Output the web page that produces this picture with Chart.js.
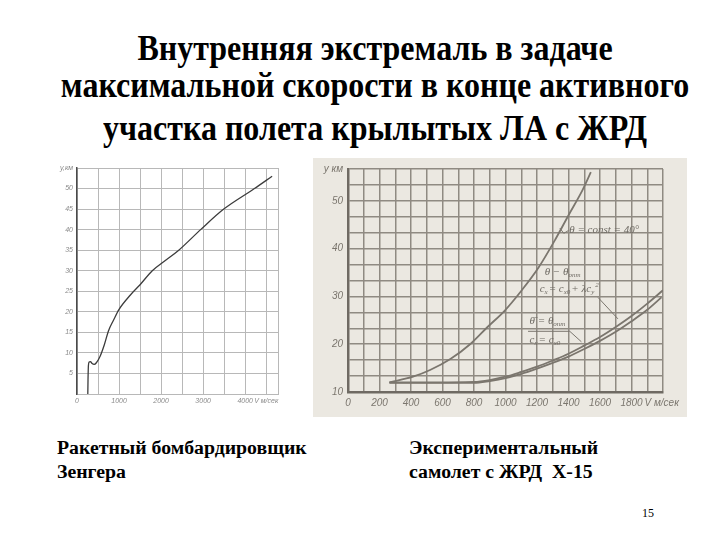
<!DOCTYPE html>
<html>
<head>
<meta charset="utf-8">
<script src="https://cdn.jsdelivr.net/npm/chart.js@4"></script>
<style>
  body { margin: 0; width: 720px; height: 540px; background: #fff; position: relative; overflow: hidden; }
  .title, .cap, .page { font-family: 'Liberation Serif'; }
  .title { position: absolute; left: 15px; width: 720px; text-align: center; font-weight: bold; font-size: 32px; line-height: 32px; white-space: nowrap; transform: scaleY(1.1); }
  .cap { position: absolute; font-weight: bold; font-size: 19.8px; line-height: 24px; white-space: nowrap; }
  #senger { position: absolute; left: 55px; top: 155px; background: #fff; }
  #x15 { position: absolute; left: 313px; top: 158px; background: #ebe8e1; }
  .page { position: absolute; left: 642px; top: 506px; font-size: 12px; }
</style>
</head>
<body>
<div class="title" style="top:32px">Внутренняя экстремаль в задаче</div>
<div class="title" style="top:69px">максимальной скорости в конце активного</div>
<div class="title" style="top:112px">участка полета крылытых ЛА с ЖРД</div>

<canvas id="senger" width="240" height="260"></canvas>
<canvas id="x15" width="374" height="259"></canvas>

<div class="cap" style="left:57px; top:435px">Ракетный бомбардировщик<br>Зенгера</div>
<div class="cap" style="left:409px; top:435px">Экспериментальный<br>самолет с ЖРД&nbsp; Х-15</div>
<div class="page">15</div>

<script>
// --- DATA ---
// Зенгер: скорость V, м/сек -> высота y, км
const sengerV = [257, 262, 272, 290, 320, 360, 410, 460, 550, 650, 750, 870, 1000, 1270, 1500, 1790, 2100, 2420, 2940, 3490, 4220, 4640];
const sengerH = [0, 3.5, 7.0, 7.8, 7.9, 7.4, 7.2, 7.6, 9.2, 12.0, 15.4, 18.0, 20.6, 24.1, 26.6, 30.0, 32.5, 35.0, 40.0, 45.0, 50.0, 53.0];

// X-15: θ = const = 40°
const x15V40 = [263, 413, 521, 650, 779, 886, 994, 1101, 1209, 1316, 1402, 1488, 1542];
const x15H40 = [12.0, 13.2, 14.6, 16.9, 20.1, 23.6, 27.0, 31.2, 36.0, 41.9, 47.1, 52.2, 56.0];
// X-15: θ = θопт, cx = cx0 + λcy²
const x15VoptA = [263, 500, 800, 900, 1000, 1100, 1200, 1300, 1400, 1500, 1600, 1700, 1800, 1900, 2000];
const x15HoptA = [12.0, 12.0, 12.1, 12.5, 13.2, 14.2, 15.3, 16.6, 18.0, 19.7, 21.5, 23.6, 25.9, 28.5, 31.3];
// X-15: θ = θопт, cx = cx0
const x15VoptB = [263, 500, 800, 900, 1000, 1100, 1200, 1300, 1400, 1500, 1600, 1700, 1800, 1900, 1990];
const x15HoptB = [11.9, 11.9, 11.9, 12.3, 12.9, 13.8, 14.9, 16.1, 17.4, 19.0, 20.7, 22.6, 24.8, 27.2, 29.8];

// tick labels
const sengerXLabels = { 0: '0', 1000: '1000', 2000: '2000', 3000: '3000', 4000: '4000', 4500: 'V м/сек' };
const x15XLabels = ['0', '200', '400', '600', '800', '1000', '1200', '1400', '1600', '1800'];
const yUnit = 'у,км';

// annotations on the X-15 chart (data coordinates)
const x15Notes = [
    { x: 1405, y: 43.8, parts: [['θ = const = 40°', '']] },
    { x: 1249, y: 35.0, parts: [['θ − θ', ''], ['опт', 'sub']] },
    { x: 1217, y: 31.6, parts: [['c', ''], ['x', 'sub'], ['= c', ''], ['x0', 'sub'], ['+ λc', ''], ['y', 'sub'], ['2', 'sup']] },
    { x: 1153, y: 24.8, parts: [['θ̄ = θ', ''], ['опт', 'sub']] },
    { x: 1153, y: 20.9, parts: [['c', ''], ['x', 'sub'], ['= c', ''], ['x0', 'sub']] }
];
const x15Leaders = [
    [[1345, 44.3], [1370, 43.2], [1400, 43.8]],
    [[1587, 29.8], [1714, 25.3]],
    [[1143, 22.7], [1408, 22.7], [1482, 20.5]]
];

const toPoints = (xs, ys) => xs.map((v, i) => ({ x: v, y: ys[i] }));
const serif = "'Liberation Serif'";

// --- 1. LEFT: ЗЕНГЕР ---
const sengerGray = '#8a8a8a';
new Chart(document.getElementById('senger'), {
    type: 'line',
    data: {
        datasets: [{
            data: toPoints(sengerV, sengerH),
            borderColor: '#3c3c3c', borderWidth: 1.3,
            pointRadius: 0, cubicInterpolationMode: 'monotone'
        }]
    },
    options: {
        responsive: false, animation: false,
        layout: { padding: { top: 13, right: 17, left: 0, bottom: 0 } },
        plugins: { legend: { display: false }, tooltip: { enabled: false } },
        scales: {
            x: {
                type: 'linear', min: 0, max: 4780,
                afterBuildTicks: ax => {
                    let t = [];
                    for (let v = 0; v < ax.max; v += 500) t.push({ value: v });
                    t.push({ value: ax.max });
                    ax.ticks = t;
                },
                afterFit: s => { s.height = 21; },
                grid: { color: '#b8b8b8', lineWidth: 1, drawTicks: false },
                border: { color: '#b8b8b8', width: 1 },
                ticks: {
                    autoSkip: false, maxRotation: 0, padding: 3,
                    color: sengerGray, font: { family: 'Liberation Sans', size: 7, style: 'italic' },
                    callback: v => sengerXLabels[v] || ''
                }
            },
            y: {
                min: 0, max: 55,
                afterBuildTicks: ax => {
                    let t = [];
                    for (let v = 0; v <= 55; v += 5) t.push({ value: v });
                    ax.ticks = t;
                },
                afterFit: s => { s.width = 22; },
                grid: { color: '#b8b8b8', lineWidth: 1, drawTicks: false },
                border: { color: '#4a4a4a', width: 1.5 },
                ticks: {
                    padding: 4,
                    color: sengerGray, font: { family: 'Liberation Sans', size: 7, style: 'italic' },
                    callback: v => v === 0 ? '' : (v === 55 ? yUnit : String(v))
                }
            }
        }
    }
});

// --- 2. RIGHT: X-15 ---
const x15Line = '#7b766e';
const x15Grid = '#8f8a82';

function drawParts(ctx, x, y, parts) {
    let cx = x;
    parts.forEach(([txt, kind]) => {
        ctx.font = (kind ? 'italic 7px ' : 'italic 11px ') + serif;
        let dy = kind === 'sub' ? 3 : (kind === 'sup' ? -4 : 0);
        ctx.fillText(txt, cx, y + dy);
        cx += ctx.measureText(txt).width + (kind ? 1 : 0);
    });
}

const notesPlugin = {
    id: 'x15notes',
    afterDatasetsDraw(chart) {
        const { ctx, scales: { x, y } } = chart;
        ctx.save();
        ctx.strokeStyle = x15Line;
        ctx.lineWidth = 1;
        x15Leaders.forEach(line => {
            ctx.beginPath();
            line.forEach(([v, h], i) => {
                let px = x.getPixelForValue(v), py = y.getPixelForValue(h);
                i ? ctx.lineTo(px, py) : ctx.moveTo(px, py);
            });
            ctx.stroke();
        });
        ctx.fillStyle = '#6e6a63';
        ctx.textBaseline = 'middle';
        x15Notes.forEach(n => drawParts(ctx, x.getPixelForValue(n.x), y.getPixelForValue(n.y), n.parts));
        // unit label after 1800
        ctx.font = "italic 10px 'Liberation Sans'";
        ctx.textBaseline = 'top';
        ctx.fillStyle = x15Line;
        ctx.fillText('V м/сек', x.getPixelForValue(1800) + 13, y.bottom + 6);
        ctx.restore();
    }
};

new Chart(document.getElementById('x15'), {
    type: 'line',
    data: {
        datasets: [
            { data: toPoints(x15V40, x15H40), borderColor: x15Line, borderWidth: 1.8, pointRadius: 0, cubicInterpolationMode: 'monotone' },
            { data: toPoints(x15VoptA, x15HoptA), borderColor: x15Line, borderWidth: 1.8, pointRadius: 0, cubicInterpolationMode: 'monotone' },
            { data: toPoints(x15VoptB, x15HoptB), borderColor: x15Line, borderWidth: 1.8, pointRadius: 0, cubicInterpolationMode: 'monotone' }
        ]
    },
    options: {
        responsive: false, animation: false,
        layout: { padding: { top: 10, right: 24, left: 0, bottom: 0 } },
        plugins: { legend: { display: false }, tooltip: { enabled: false } },
        scales: {
            x: {
                type: 'linear', min: 0, max: 2000,
                afterBuildTicks: ax => {
                    let t = [];
                    for (let v = 0; v <= 2000; v += 100) t.push({ value: v });
                    ax.ticks = t;
                },
                afterFit: s => { s.height = 25; },
                grid: { color: x15Grid, lineWidth: 1.5, drawTicks: false },
                border: { color: '#6f6a63', width: 2.5 },
                ticks: {
                    autoSkip: false, maxRotation: 0, padding: 5,
                    color: x15Line, font: { family: 'Liberation Sans', size: 10, style: 'italic' },
                    callback: v => (v % 200 === 0 && v / 200 < x15XLabels.length) ? x15XLabels[v / 200] : ''
                }
            },
            y: {
                min: 10, max: 10 + 140 / 3,
                afterBuildTicks: ax => {
                    let t = [];
                    for (let i = 0; i <= 14; i++) t.push({ value: 10 + i * 10 / 3 });
                    ax.ticks = t;
                },
                afterFit: s => { s.width = 35; },
                grid: { color: x15Grid, lineWidth: 1.5, drawTicks: false },
                border: { color: '#6f6a63', width: 2.5 },
                ticks: {
                    padding: 5,
                    color: x15Line, font: { family: 'Liberation Sans', size: 10, style: 'italic' },
                    callback: (v, i, all) => {
                        if (i === all.length - 1) return 'у км';
                        let r = Math.round(v);
                        return (Math.abs(v - r) < 0.01 && r % 10 === 0) ? String(r) : '';
                    }
                }
            }
        }
    },
    plugins: [notesPlugin]
});
</script>
</body>
</html>
